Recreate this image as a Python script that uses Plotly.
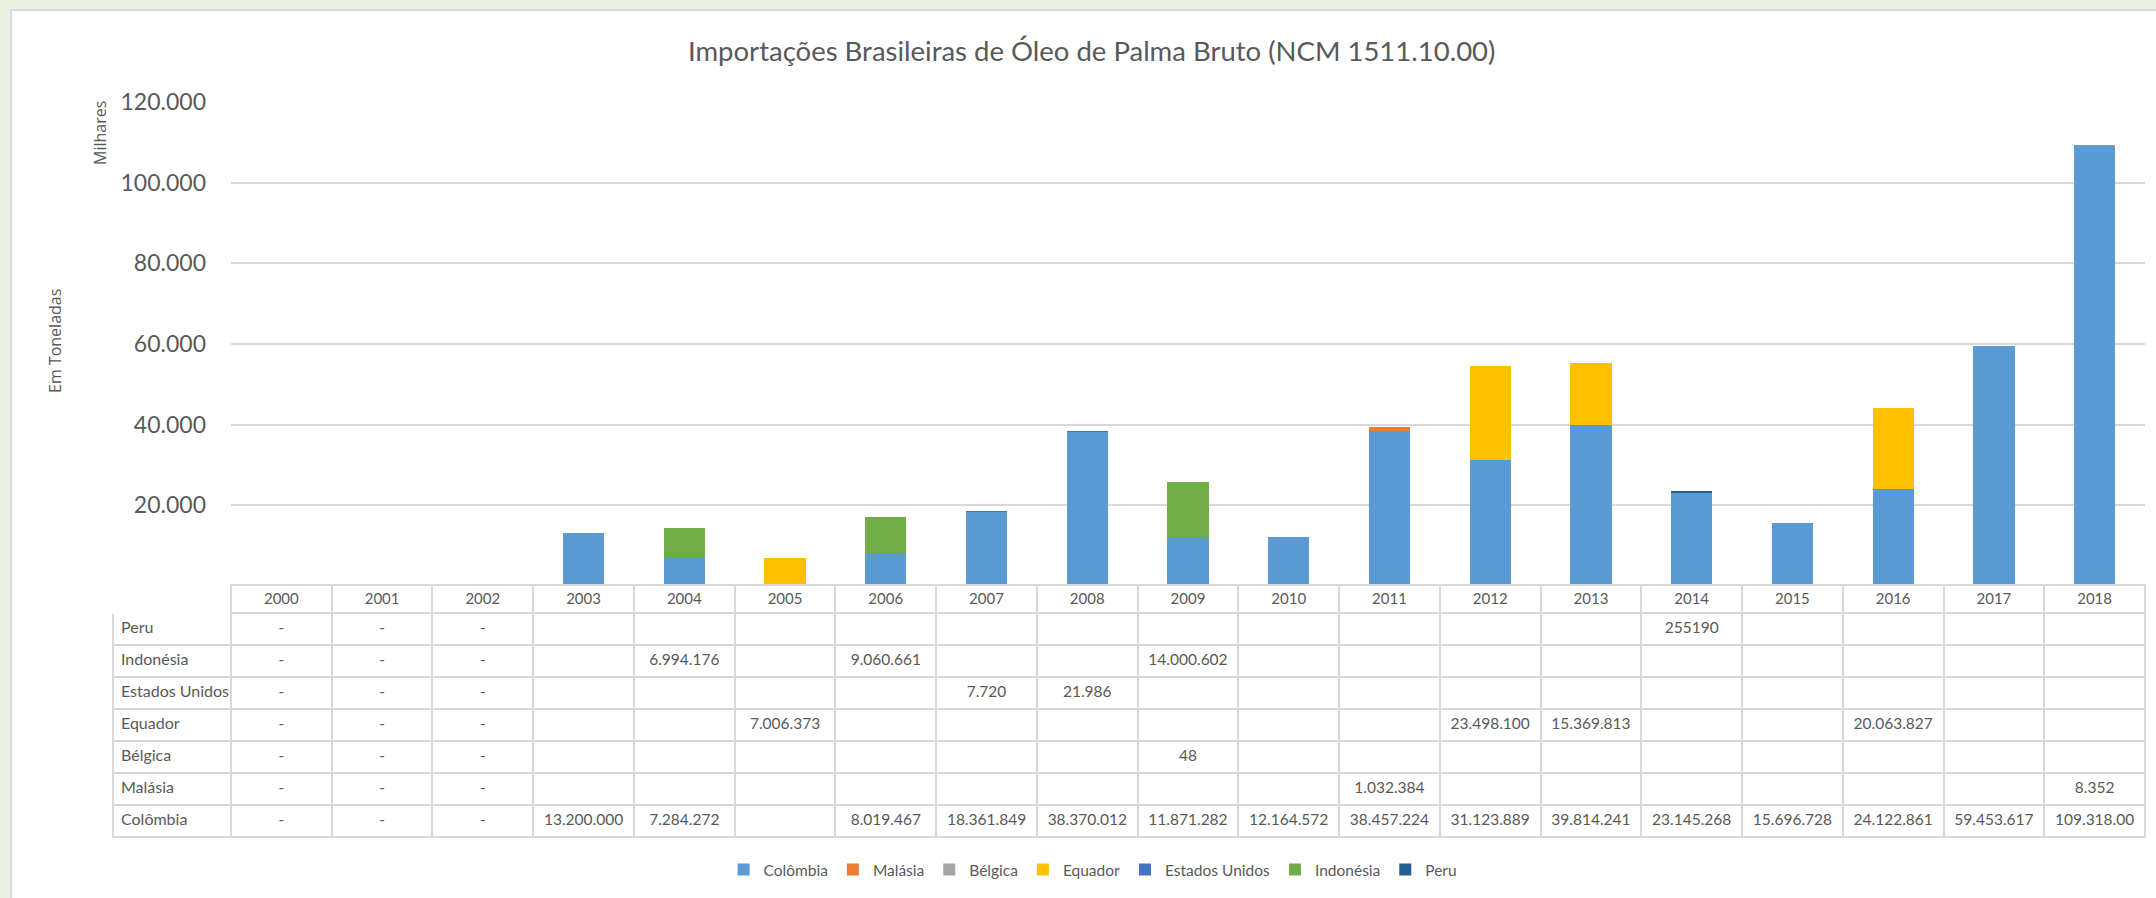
import plotly.graph_objects as go

W, H = 2156, 898

years = [str(y) for y in range(2000, 2019)]

# values in kg (table values); None = blank cell, 0 = "-"
colombia = [0, 0, 0, 13200000, 7284272, None, 8019467, 18361849, 38370012, 11871282,
            12164572, 38457224, 31123889, 39814241, 23145268, 15696728, 24122861, 59453617, 109318000]
malasia = [0, 0, 0, None, None, None, None, None, None, None,
           None, 1032384, None, None, None, None, None, None, 8352]
belgica = [0, 0, 0, None, None, None, None, None, None, 48,
           None, None, None, None, None, None, None, None, None]
equador = [0, 0, 0, None, None, 7006373, None, None, None, None,
           None, None, 23498100, 15369813, None, None, 20063827, None, None]
estados_unidos = [0, 0, 0, None, None, None, None, 7720, 21986, None,
                  None, None, None, None, None, None, None, None, None]
indonesia = [0, 0, 0, None, 6994176, None, 9060661, None, None, 14000602,
             None, None, None, None, None, None, None, None, None]
peru = [0, 0, 0, None, None, None, None, None, None, None,
        None, None, None, None, 255190, None, None, None, None]

series = [
    ("Colômbia", colombia, "#5B9BD5"),
    ("Malásia", malasia, "#ED7D31"),
    ("Bélgica", belgica, "#A5A5A5"),
    ("Equador", equador, "#FFC000"),
    ("Estados Unidos", estados_unidos, "#4472C4"),
    ("Indonésia", indonesia, "#70AD47"),
    ("Peru", peru, "#255E91"),
]

table_rows = ["Peru", "Indonésia", "Estados Unidos", "Equador", "Bélgica", "Malásia", "Colômbia"]
display_overrides = {("Peru", "2014"): "255190", ("Colômbia", "2018"): "109.318.00"}

ytick_vals = [0, 20e6, 40e6, 60e6, 80e6, 100e6, 120e6]
ytick_text = ["-\u00a0\u00a0\u00a0", "20.000", "40.000", "60.000", "80.000", "100.000", "120.000"]

FONT = "Lato, 'Open Sans', sans-serif"
FONT2 = "'Open Sans', sans-serif"
TXT = "#595959"
GRID = "#D9D9D9"


def fmt(v):
    if v is None:
        return ""
    if v == 0:
        return "-"
    return f"{v:,}".replace(",", ".")


fig = go.Figure()
for name, vals, color in series:
    fig.add_trace(go.Bar(
        name=name, x=years, y=[v if v else 0 for v in vals],
        marker=dict(color=color, line=dict(width=0)),
        xaxis="x", yaxis="y",
    ))

lookup = {name: vals for name, vals, _ in series}
columns = [[r.replace(" ", "\u00a0") for r in table_rows]]
for i, yr in enumerate(years):
    col = []
    for r in table_rows:
        col.append(display_overrides.get((r, yr), fmt(lookup[r][i])))
    columns.append(col)

px = lambda p: p / W
py = lambda p: 1 - p / H

label_w = 118
col_w = 100.75
fig.add_trace(go.Table(
    domain=dict(x=[px(113), px(2145)], y=[0, py(585)]),
    columnwidth=[label_w] + [col_w] * len(years),
    header=dict(
        values=[""] + years,
        height=28,
        align="center",
        fill=dict(color="white"),
        line=dict(color=["white"] + [GRID] * len(years), width=2),
        font=dict(family=FONT, size=15, color=TXT),
    ),
    cells=dict(
        values=columns,
        height=32,
        align=["left"] + ["center"] * len(years),
        fill=dict(color="white"),
        line=dict(color=GRID, width=2),
        font=dict(family=FONT, size=[16] + [15.5] * len(years), color=TXT),
    ),
))

fig.update_layout(
    width=W, height=H, autosize=False,
    margin=dict(l=0, r=0, t=0, b=0, autoexpand=False),
    paper_bgcolor="#EBF0DF",
    plot_bgcolor="rgba(0,0,0,0)",
    barmode="stack",
    bargap=0.59,
    font=dict(family=FONT, color=TXT),
    xaxis=dict(domain=[px(231), px(2145)], showticklabels=False, showgrid=False,
               zeroline=False, showline=False, ticks="", automargin=False),
    yaxis=dict(domain=[py(586), py(102)], range=[0, 120e6], tickvals=ytick_vals,
               ticktext=ytick_text, showgrid=True, gridcolor=GRID, gridwidth=2,
               zeroline=False, showline=False, ticks="", ticklabelstandoff=24,
               automargin=False,
               tickfont=dict(family=FONT, size=23, color=TXT)),
    legend=dict(orientation="h", x=0.507, xanchor="center", y=py(870), yanchor="middle",
                traceorder="normal", font=dict(family=FONT, size=15.5, color=TXT),
                bgcolor="rgba(0,0,0,0)"),
    showlegend=True,
    shapes=[dict(type="rect", xref="paper", yref="paper", x0=px(11), x1=1.02,
                 y0=-0.02, y1=py(10), fillcolor="white", line=dict(color=GRID, width=2),
                 layer="below")],
    annotations=[
        dict(text="Importações Brasileiras de Óleo de Palma Bruto (NCM 1511.10.00)",
             xref="paper", yref="paper", x=px(1092), y=py(51), showarrow=False,
             xanchor="center", yanchor="middle", font=dict(family=FONT, size=27.5, color=TXT)),
        dict(text="Milhares", xref="paper", yref="paper", x=px(100), y=py(133), textangle=-90,
             showarrow=False, xanchor="center", yanchor="middle",
             font=dict(family=FONT2, size=16, color=TXT)),
        dict(text="Em Toneladas", xref="paper", yref="paper", x=px(55), y=py(341), textangle=-90,
             showarrow=False, xanchor="center", yanchor="middle",
             font=dict(family=FONT2, size=16, color=TXT)),
    ],
)

fig.write_html("out.html",
               config={"displayModeBar": False},
               post_script="document.body.style.margin='0';document.body.style.overflow='hidden';")
